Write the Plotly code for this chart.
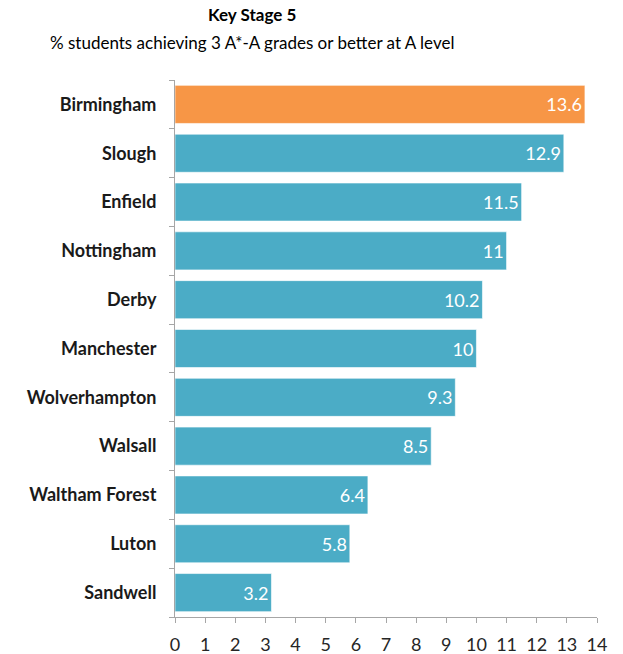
import plotly.graph_objects as go

areas = ["Birmingham", "Slough", "Enfield", "Nottingham", "Derby", "Manchester",
         "Wolverhampton", "Walsall", "Waltham Forest", "Luton", "Sandwell"]
pct = [13.6, 12.9, 11.5, 11, 10.2, 10, 9.3, 8.5, 6.4, 5.8, 3.2]
x_ticks = list(range(0, 15))

ORANGE = "#F79646"
BLUE = "#4BACC6"
colors = [ORANGE if a == "Birmingham" else BLUE for a in areas]

FONT = "Lato"

fig = go.Figure(go.Bar(
    x=pct,
    y=areas,
    orientation="h",
    marker=dict(color=colors, line=dict(color="rgba(255,255,255,0.6)", width=1)),
    text=[f"{v:g}" for v in pct],
    textposition="inside",
    insidetextanchor="end",
    textfont=dict(family=FONT, size=18, color="white"),
    constraintext="none",
    cliponaxis=False,
))

fig.update_layout(
    width=623, height=654,
    margin=dict(l=175, r=26, t=80, b=37, autoexpand=False),
    paper_bgcolor="white", plot_bgcolor="white",
    bargap=0.22,
    showlegend=False,
    font=dict(family=FONT, color="#1a1a1a"),
    xaxis=dict(
        range=[0, 14], tickvals=x_ticks, ticktext=[str(t) for t in x_ticks],
        showgrid=False, zeroline=False,
        showline=True, linecolor="#a6a6a6", linewidth=1,
        ticks="outside", ticklen=5, tickcolor="#a6a6a6",
        ticklabelstandoff=6,
        tickfont=dict(family=FONT, size=18, color="#262626"),
        automargin=False,
        fixedrange=True,
    ),
    yaxis=dict(
        categoryorder="array", categoryarray=areas[::-1],
        showgrid=False, zeroline=False,
        showline=True, linecolor="#a6a6a6", linewidth=1,
        ticks="outside", ticklen=5, tickcolor="#a6a6a6",
        tickson="boundaries",
        ticklabelstandoff=14,
        tickfont=dict(family=FONT, size=18, color="#1a1a1a", weight="bold"),
        automargin=False,
        fixedrange=True,
    ),
    annotations=[
        dict(text="<b>Key Stage 5</b>", xref="paper", yref="paper",
             x=(252 - 175) / 422, y=(617 - 15) / 537, showarrow=False,
             xanchor="center", yanchor="middle",
             font=dict(family=FONT, size=17, color="#000000")),
        dict(text="% students achieving 3 A*-A grades or better at A level",
             xref="paper", yref="paper",
             x=(252 - 175) / 422, y=(617 - 43) / 537, showarrow=False,
             xanchor="center", yanchor="middle",
             font=dict(family=FONT, size=17, color="#000000")),
    ],
)

fig.write_html("out.html")
